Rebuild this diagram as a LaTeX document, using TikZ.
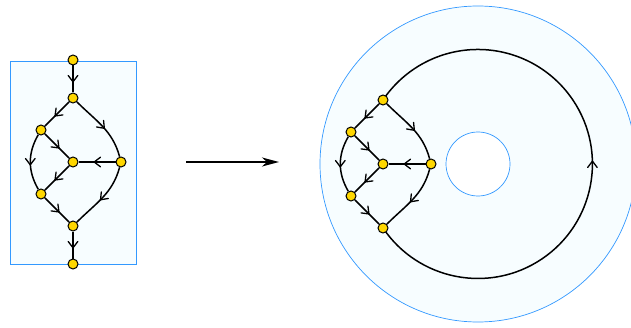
\documentclass[tikz,border=0pt]{standalone}
\usetikzlibrary{arrows.meta,decorations.markings,backgrounds}
\definecolor{nodeyellow}{HTML}{FFD700}
\definecolor{regionblue}{HTML}{3399FF}
\definecolor{regionfill}{HTML}{F7FDFF}
\pgfdeclarelayer{back}
\pgfsetlayers{back,background,main}
\tikzset{
  vtx/.style={circle,draw=black,fill=nodeyellow,line width=1pt,inner sep=0pt,minimum size=10pt},
  edge/.style={draw=black,line width=1.5pt},
  midarrow/.style={edge,postaction={decorate},decoration={markings,
     mark=at position 0.5 with {\draw[line width=1.3pt,line cap=round,line join=miter] (-3.5pt,4.8pt) -- (2.8pt,0pt) -- (-3.5pt,-4.8pt);}}},
  region/.style={draw=regionblue,line width=0.7pt,fill=regionfill},
  bigarrow/.style={draw=black,line width=1.5pt,-{Stealth[length=17pt,width=9pt,inset=5pt]}}
}
\begin{document}
\begin{tikzpicture}[x=1pt,y=1pt]
\useasboundingbox (0,0) rectangle (631,327);
% left graph
\node[vtx] (t0) at (73,267) {};
\node[vtx] (t1) at (73,229) {};
\node[vtx] (t2) at (41,197) {};
\node[vtx] (t3) at (73,165) {};
\node[vtx] (t4) at (121,165) {};
\node[vtx] (t5) at (41,133) {};
\node[vtx] (t6) at (73,101) {};
\node[vtx] (t7) at (73,63) {};
% right graph
\coordinate (C) at (478,163);
\node[vtx] (r1) at (383,227) {};
\node[vtx] (r2) at (351,195) {};
\node[vtx] (r3) at (383,163) {};
\node[vtx] (r4) at (431,163) {};
\node[vtx] (r5) at (351,131) {};
\node[vtx] (r6) at (383,99) {};
% arrow
\coordinate (a1) at (186,165);
\coordinate (a2) at (279,165);
\draw[bigarrow] (a1) -- (a2);
\begin{pgfonlayer}{back}
  \path[region] (10,63) rectangle (136,266);
  \fill[regionfill,even odd rule] (C) circle[radius=158] (C) circle[radius=32];
  \draw[regionblue,line width=0.7pt] (C) circle[radius=158];
  \draw[regionblue,line width=0.7pt] (C) circle[radius=32];
\end{pgfonlayer}
\begin{pgfonlayer}{background}
  \draw[midarrow] (t0) -- (t1);
  \draw[midarrow] (t1) -- (t2);
  \draw[midarrow] (t1) to[out=-45,in=105] (t4);
  \draw[midarrow] (t2) to[out=-120,in=120] (t5);
  \draw[midarrow] (t2) -- (t3);
  \draw[midarrow] (t4) -- (t3);
  \draw[midarrow] (t3) -- (t5);
  \draw[midarrow] (t4) to[out=-105,in=45] (t6);
  \draw[midarrow] (t5) -- (t6);
  \draw[midarrow] (t6) -- (t7);
  \draw[midarrow] (r1) -- (r2);
  \draw[midarrow] (r1) to[out=-45,in=105] (r4);
  \draw[midarrow] (r2) to[out=-120,in=120] (r5);
  \draw[midarrow] (r2) -- (r3);
  \draw[midarrow] (r4) -- (r3);
  \draw[midarrow] (r3) -- (r5);
  \draw[midarrow] (r4) to[out=-105,in=45] (r6);
  \draw[midarrow] (r5) -- (r6);
  \draw[midarrow] (r6.center) arc[start angle=-146,end angle=146,radius=114.5];
\end{pgfonlayer}
\end{tikzpicture}
\end{document}
